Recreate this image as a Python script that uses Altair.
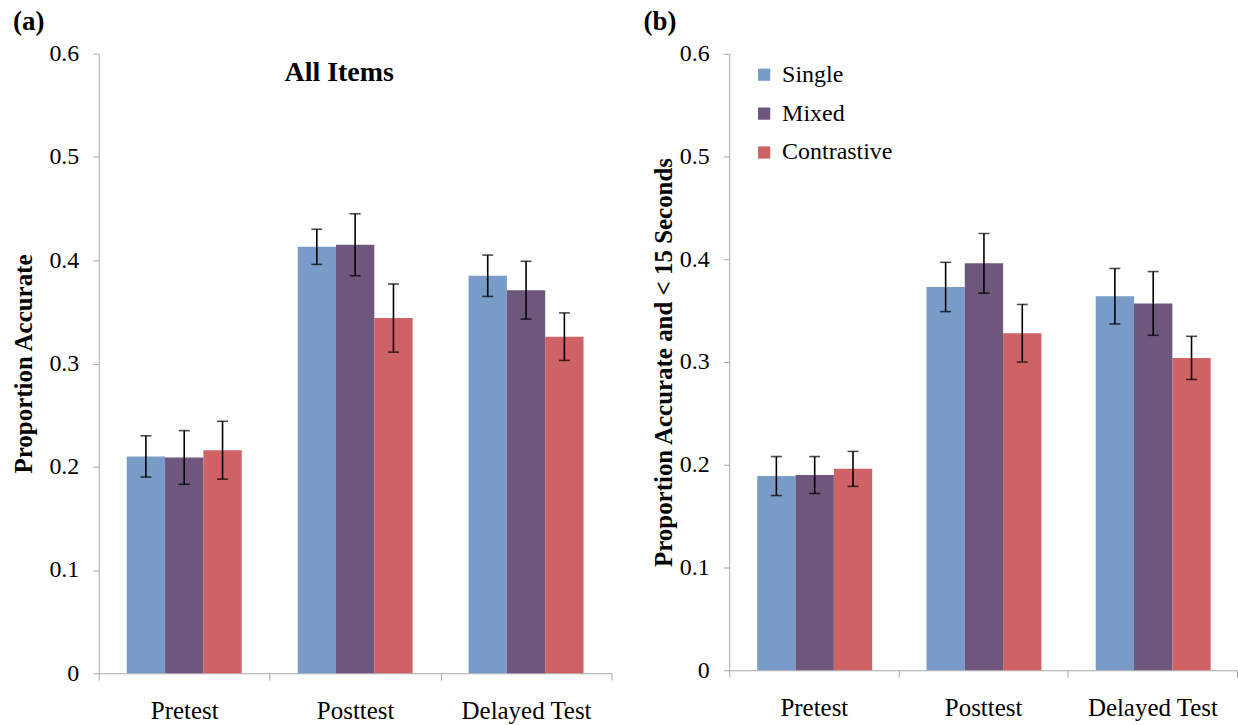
import altair as alt
import pandas as pd

# Test phases (x categories) and training conditions (series)
tests = ["Pretest", "Posttest", "Delayed Test"]
conditions = ["Single", "Mixed", "Contrastive"]
colors = ["#789BC7", "#6E567D", "#CF6264"]

# (a) All items: proportion accurate, with standard-error half widths
all_single = [0.210, 0.413, 0.385]
all_mixed = [0.209, 0.415, 0.371]
all_contrastive = [0.216, 0.344, 0.326]
all_single_se = [0.020, 0.017, 0.020]
all_mixed_se = [0.026, 0.030, 0.028]
all_contrastive_se = [0.028, 0.033, 0.023]

# (b) Proportion accurate and answered in under 15 seconds
fast_single = [0.189, 0.373, 0.364]
fast_mixed = [0.190, 0.396, 0.357]
fast_contrastive = [0.196, 0.328, 0.304]
fast_single_se = [0.019, 0.024, 0.027]
fast_mixed_se = [0.018, 0.029, 0.031]
fast_contrastive_se = [0.017, 0.028, 0.021]

y_ticks = [0, 0.1, 0.2, 0.3, 0.4, 0.5, 0.6]

SERIF = "'Liberation Serif', 'Times New Roman', serif"
AXIS_GRAY = "#A9A9A9"


def make_frame(means, errs):
    rows = []
    for cond, vals, ses in zip(conditions, means, errs):
        for test, v, se in zip(tests, vals, ses):
            rows.append({"test": test, "condition": cond, "value": v,
                         "lo": v - se, "hi": v + se})
    return pd.DataFrame(rows)


def panel(means, errs, y_title, letter, width, height, title_pad,
          legend=None, heading=None):
    df = make_frame(means, errs)
    x = alt.X("test:N", sort=tests, title=None,
              scale=alt.Scale(paddingInner=0, paddingOuter=0),
              axis=alt.Axis(labelAngle=0, labelFontSize=25, labelFont=SERIF,
                            labelColor="black", labelPadding=18,
                            tickBand="extent", tickSize=7,
                            tickColor=AXIS_GRAY, domainColor=AXIS_GRAY))
    xo = alt.XOffset("condition:N", sort=conditions,
                     scale=alt.Scale(paddingInner=0, paddingOuter=0.73))
    yscale = alt.Scale(domain=[0, 0.6], nice=False)
    yaxis = alt.Axis(values=y_ticks, format="~g", grid=False,
                     labelFontSize=24, labelFont=SERIF,
                     labelColor="black", labelPadding=14,
                     tickSize=6, tickColor=AXIS_GRAY,
                     domainColor=AXIS_GRAY,
                     titleFont=SERIF, titleFontSize=25,
                     titleFontWeight="bold", titleColor="black",
                     titlePadding=title_pad)

    base = alt.Chart(df).encode(x=x, xOffset=xo)

    bars = base.mark_bar().encode(
        y=alt.Y("value:Q", scale=yscale, title=y_title, axis=yaxis),
        color=alt.Color("condition:N", sort=conditions,
                        scale=alt.Scale(domain=conditions, range=colors),
                        legend=legend),
    )

    whisker = base.mark_rule(color="black", strokeWidth=1.6).encode(
        y=alt.Y("lo:Q", scale=yscale, title=y_title, axis=yaxis), y2="hi:Q")
    cap_lo = base.mark_tick(color="black", thickness=1.6, size=11).encode(
        y=alt.Y("lo:Q", scale=yscale, title=y_title, axis=yaxis))
    cap_hi = base.mark_tick(color="black", thickness=1.6, size=11).encode(
        y=alt.Y("hi:Q", scale=yscale, title=y_title, axis=yaxis))

    tag = alt.Chart(pd.DataFrame({"t": [letter]})).mark_text(
        font=SERIF, fontSize=27, fontWeight="bold", align="left",
        baseline="middle", color="black").encode(
        text="t:N", x=alt.value(-86), y=alt.value(-32))

    layers = [bars, whisker, cap_lo, cap_hi, tag]
    if heading:
        layers.append(alt.Chart(pd.DataFrame({"t": [heading]})).mark_text(
            font=SERIF, fontSize=28, fontWeight="bold", align="center",
            baseline="middle", color="black").encode(
            text="t:N", x=alt.value(241), y=alt.value(19)))

    return alt.layer(*layers).properties(width=width, height=height)


legend_b = alt.Legend(title=None, orient="none", legendX=23, legendY=9,
                      labelFont=SERIF, labelFontSize=24, labelColor="black",
                      symbolType="square", symbolSize=150,
                      symbolStrokeWidth=0, labelOffset=6, rowPadding=15)

left = panel([all_single, all_mixed, all_contrastive],
             [all_single_se, all_mixed_se, all_contrastive_se],
             "Proportion Accurate", "(a)", 514, 621, 12, legend=None,
             heading="All Items")
right = panel([fast_single, fast_mixed, fast_contrastive],
              [fast_single_se, fast_mixed_se, fast_contrastive_se],
              "Proportion Accurate and < 15 Seconds", "(b)", 509, 618, 3,
              legend=legend_b)

chart = alt.hconcat(left, right, spacing=31).resolve_legend(
    color="independent").properties(
    padding={"left": 12, "top": 7, "right": 0, "bottom": 0},
    background="white",
).configure_view(strokeWidth=0).configure_axis(
    labelFont=SERIF, titleFont=SERIF
).configure_legend(
    labelFont=SERIF, titleFont=SERIF
).configure_text(font=SERIF)

chart.save("out.html", embed_options={"renderer": "svg", "actions": False})
